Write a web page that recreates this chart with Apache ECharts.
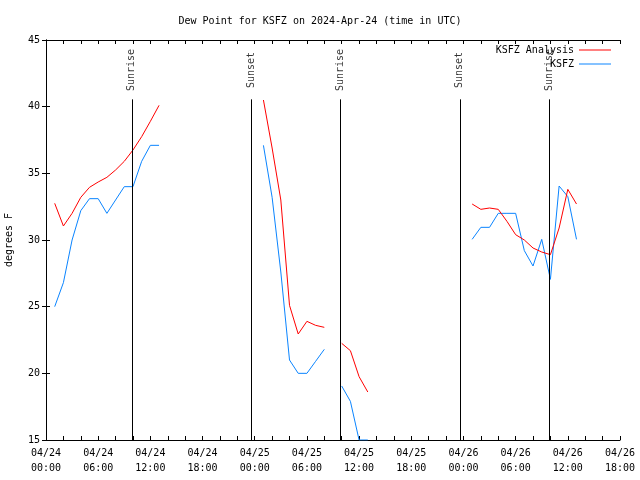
<!DOCTYPE html>
<html>
<head>
<meta charset="utf-8">
<script src="https://cdn.jsdelivr.net/npm/echarts@6/dist/echarts.min.js"></script>
<style>html,body{margin:0;padding:0;background:#fff}#c{width:640px;height:480px}</style>
</head>
<body>
<div id="c"></div>
<script>
// Hours since 2024-04-24 00:00 UTC
const xTickLabels = ["04/24\n00:00","04/24\n06:00","04/24\n12:00","04/24\n18:00","04/25\n00:00","04/25\n06:00","04/25\n12:00","04/25\n18:00","04/26\n00:00","04/26\n06:00","04/26\n12:00","04/26\n18:00"];
const segmentStarts = [1, 25, 34, 49];
const analysisSegments = [
  [32.75, 31.05, 32.0, 33.2, 33.95, 34.35, 34.7, 35.25, 35.9, 36.75, 37.75, 38.9, 40.1],
  [40.5, 36.9, 33.0, 25.1, 22.95, 23.9, 23.6, 23.45],
  [22.25, 21.7, 19.75, 18.6],
  [32.7, 32.3, 32.4, 32.3, 31.4, 30.4, 30.0, 29.4, 29.1, 28.9, 30.9, 33.8, 32.7]
];
const obsSegments = [
  [25.0, 26.8, 30.0, 32.2, 33.1, 33.1, 32.0, 33.0, 34.0, 34.0, 35.9, 37.1, 37.1],
  [37.1, 33.2, 27.6, 21.0, 20.0, 20.0, 20.9, 21.8],
  [19.05, 17.9, 15.0, 15.0],
  [30.05, 30.95, 30.95, 32.0, 32.0, 32.0, 29.2, 28.05, 30.05, 27.05, 34.05, 33.25, 30.05]
];
const eventHours = [9.87, 23.57, 33.85, 47.58, 57.87];
const eventNames = ["Sunrise", "Sunset", "Sunrise", "Sunset", "Sunrise"];
const seriesNames = ["KSFZ Analysis", "KSFZ"];

function build(segs) {
  const out = [];
  segs.forEach((seg, i) => {
    if (i > 0) out.push([segmentStarts[i] - 0.5, '-']);
    seg.forEach((v, j) => out.push([segmentStarts[i] + j, v]));
  });
  return out;
}

const FONT = 'DejaVu Sans Mono';
const chart = echarts.init(document.getElementById('c'), null, {renderer: 'canvas'});
const axisCommon = {
  type: 'value', min: 0, max: 66, interval: 2,
  axisLine: {lineStyle: {color: '#000', width: 1}},
  axisTick: {inside: true, length: 4, lineStyle: {color: '#000'}},
  splitLine: {show: false}
};
chart.setOption({
  animation: false,
  backgroundColor: '#fff',
  textStyle: {fontFamily: FONT, fontSize: 10, color: '#000'},
  title: {
    text: 'Dew Point for KSFZ on 2024-Apr-24 (time in UTC)',
    left: 'center', top: 11,
    textStyle: {fontFamily: FONT, fontSize: 10, fontWeight: 'normal', color: '#000'}
  },
  legend: {
    data: seriesNames, orient: 'vertical', right: 24, top: 40, align: 'right',
    itemWidth: 32, itemHeight: 1, itemGap: 4, icon: 'rect',
    textStyle: {fontFamily: FONT, fontSize: 10, color: '#000', padding: [0, 0, 0, 0]}
  },
  grid: {left: 46, right: 20, top: 40, bottom: 40, containLabel: false, outerBoundsMode: 'none'},
  xAxis: [
    Object.assign({}, axisCommon, {
      position: 'bottom',
      axisLabel: {
        fontFamily: FONT, fontSize: 10, color: '#000', lineHeight: 15, margin: 6,
        formatter: v => (v % 6 === 0 ? xTickLabels[v / 6] : '')
      }
    }),
    Object.assign({}, axisCommon, {position: 'top', axisLabel: {show: false}})
  ],
  yAxis: [
    {
      type: 'value', min: 15, max: 45, interval: 5,
      name: 'degrees F', nameLocation: 'middle', nameGap: 32, nameRotate: 90,
      nameTextStyle: {fontFamily: FONT, fontSize: 10, color: '#000'},
      axisLine: {show: true, lineStyle: {color: '#000', width: 1}},
      axisTick: {show: true, inside: true, length: 4, lineStyle: {color: '#000'}},
      axisLabel: {fontFamily: FONT, fontSize: 10, color: '#000', margin: 6},
      splitLine: {show: false}
    },
    {
      type: 'value', min: 15, max: 45, interval: 5, position: 'right',
      axisLine: {show: true, lineStyle: {color: '#000', width: 1}},
      axisTick: {show: true, inside: true, length: 4, lineStyle: {color: '#000'}},
      axisLabel: {show: false}, splitLine: {show: false}
    }
  ],
  series: [
    {
      name: seriesNames[0], type: 'line', data: build(analysisSegments),
      showSymbol: false, symbol: 'none', connectNulls: false,
      lineStyle: {color: '#ff0000', width: 1}, itemStyle: {color: '#ff0000'}, z: 3
    },
    {
      name: seriesNames[1], type: 'line', data: build(obsSegments),
      showSymbol: false, symbol: 'none', connectNulls: false,
      lineStyle: {color: '#0a84ff', width: 1}, itemStyle: {color: '#0a84ff'}, z: 2
    },
    {
      name: 'events', type: 'scatter', symbolSize: 0, silent: true,
      data: eventHours.map((h, i) => ({value: [h, 42.75], name: eventNames[i]})),
      label: {
        show: true, position: 'inside', rotate: 90, formatter: p => p.name,
        fontFamily: FONT, fontSize: 10, color: '#000'
      },
      markLine: {
        silent: true, symbol: 'none', animation: false,
        lineStyle: {color: '#000', width: 1, type: 'solid'},
        label: {show: false},
        data: eventHours.map(h => [{coord: [h, 15]}, {coord: [h, 40.55]}])
      }
    }
  ]
});
</script>
</body>
</html>
